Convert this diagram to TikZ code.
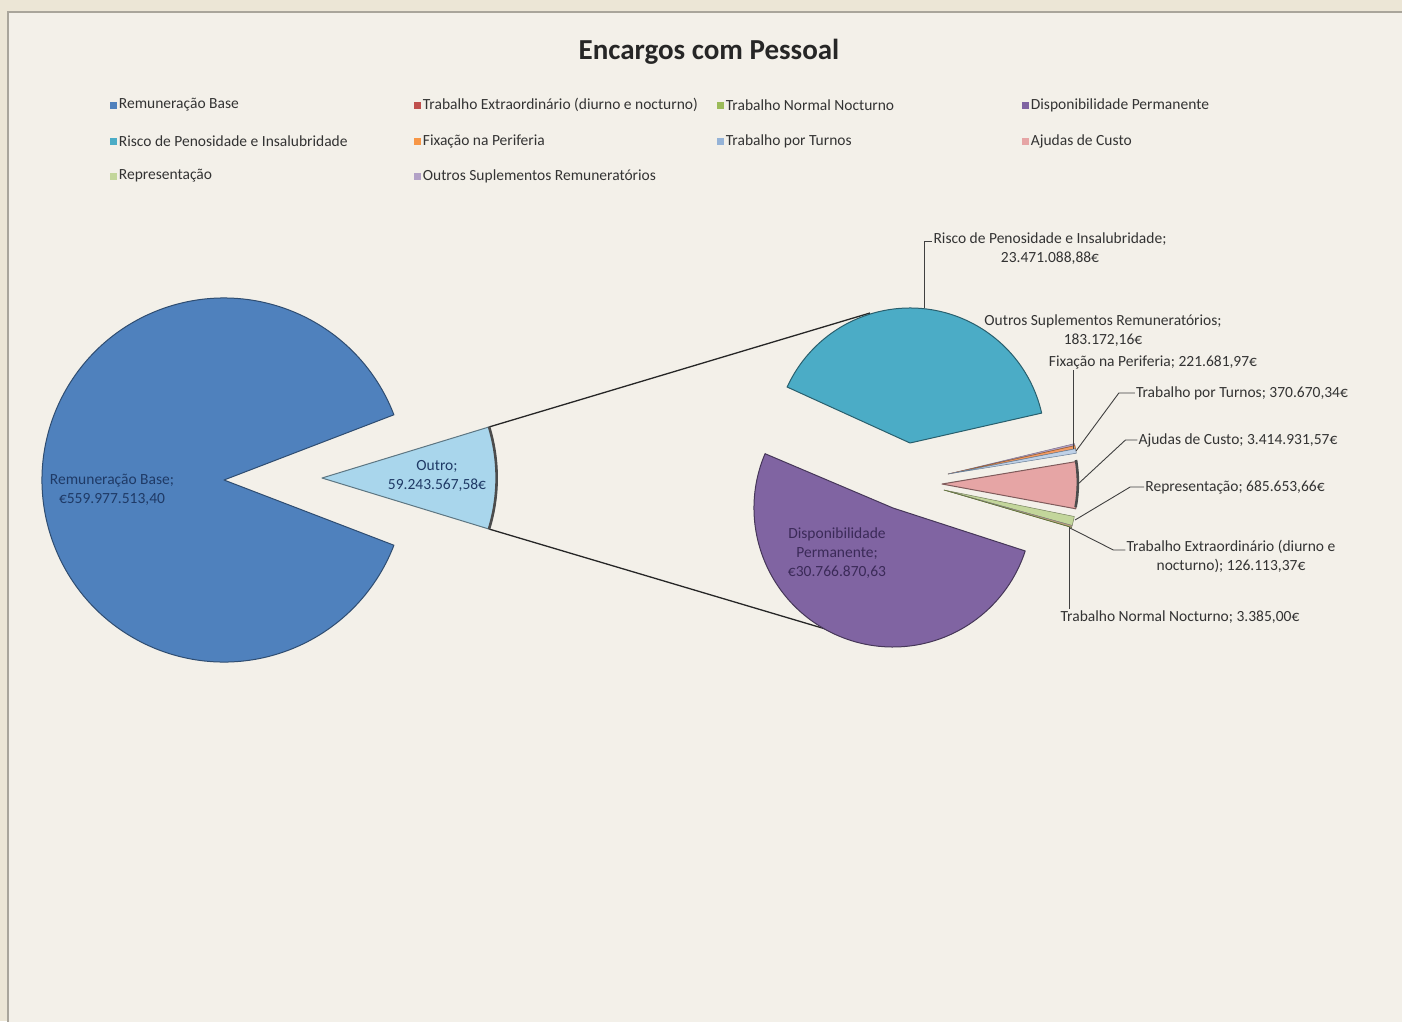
\documentclass[tikz,border=0pt]{standalone}
\usepackage{fontspec}
\setmainfont{Carlito}
\usepackage{tikz}
\usetikzlibrary{positioning}

\definecolor{frameBg}{HTML}{ECE6D6}
\definecolor{chartBg}{HTML}{F3F0E9}
\definecolor{frameLine}{HTML}{A9A59B}
\definecolor{remunBlue}{HTML}{4F81BD}
\definecolor{extraRed}{HTML}{C0504D}
\definecolor{noctGreen}{HTML}{9BBB59}
\definecolor{dispPurple}{HTML}{8064A2}
\definecolor{riscoTeal}{HTML}{4BACC6}
\definecolor{fixOrange}{HTML}{F79646}
\definecolor{turnosBlue}{HTML}{95B3D7}
\definecolor{ajudasPink}{HTML}{E6A5A5}
\definecolor{repGreen}{HTML}{C3D69B}
\definecolor{outrosLilac}{HTML}{B3A2C7}
\definecolor{outroBlue}{HTML}{A9D6EC}
\definecolor{lblGray}{HTML}{333333}
\definecolor{titleGray}{HTML}{262626}
\definecolor{remunText}{HTML}{1F3A66}
\definecolor{dispText}{HTML}{3B2A58}

% slice of a pie: centre, from, to (angles as seen), radius, style
\newcommand{\pieslice}[5]{%
  \filldraw[#5] (#1) -- ++({-(#2)}:#4) arc[start angle={-(#2)}, end angle={-(#3)}, radius=#4] -- cycle;}
% legend entry: name, position, colour, text
\newcommand{\legentry}[4]{%
  \node[legmark, fill=#3] (#1) at (#2) {};
  \node[legtext, right=1pt of #1] (#1txt) {#4};}

\begin{document}
\begin{tikzpicture}[x=1pt,y=-1pt,
    pieSlice/.style={line width=1pt, line join=round},
    leader/.style={draw=black!75, line width=0.9pt},
    link/.style={draw=black!85, line width=1.3pt},
    rim/.style={draw=black!70, line width=2.6pt},
    lbl/.style={text=lblGray, font=\fontsize{15.5}{19}\selectfont, align=center, inner sep=1pt},
    legmark/.style={minimum size=7, inner sep=0pt},
    legtext/.style={text=lblGray, font=\fontsize{15.5}{19}\selectfont, inner sep=1pt}]
  \useasboundingbox (0,0) rectangle (1402,1021);
  \fill[frameBg] (0,0) rectangle (1402,1021);
  \filldraw[fill=chartBg, draw=frameLine, line width=1.5pt] (8,12) rectangle (1412,1032);

  % title and legend
  \node[font=\bfseries\fontsize{29}{34}\selectfont, text=titleGray] (title) at (709,52) {Encargos com Pessoal};
  \legentry{lRemun}{113,105}{remunBlue}{Remuneração Base}
  \legentry{lExtra}{417,105}{extraRed}{Trabalho Extraordinário (diurno e nocturno)}
  \legentry{lNoct}{720,105}{noctGreen}{Trabalho Normal Nocturno}
  \legentry{lDisp}{1025,105}{dispPurple}{Disponibilidade Permanente}
  \legentry{lRisco}{113,141}{riscoTeal}{Risco de Penosidade e Insalubridade}
  \legentry{lFix}{417,141}{fixOrange}{Fixação na Periferia}
  \legentry{lTurnos}{720,141}{turnosBlue}{Trabalho por Turnos}
  \legentry{lAjudas}{1025,141}{ajudasPink}{Ajudas de Custo}
  \legentry{lRep}{113,176}{repGreen}{Representação}
  \legentry{lOutros}{417,176}{outrosLilac}{Outros Suplementos Remuneratórios}

  % lines from the first pie to the second
  \coordinate (outroTop) at (489,427);
  \coordinate (outroBot) at (489,529);
  \coordinate (tealEdge) at (870,313);
  \coordinate (dispEdge) at (876,644);
  \draw[link] (outroTop) -- (tealEdge);
  \draw[link] (outroBot) -- (dispEdge);

  % first pie
  \pieslice{224,480}{21}{339}{182}{pieSlice, fill=remunBlue, draw=remunBlue!60!black}
  \pieslice{322,478}{-17}{17}{175}{pieSlice, fill=outroBlue, draw=outroBlue!55!black}
  \draw[rim] (outroBot) arc[start angle=17, end angle=-17, radius=175];

  % second pie
  \pieslice{910,443}{12.8}{155.5}{135}{pieSlice, fill=riscoTeal, draw=riscoTeal!55!black}
  \pieslice{893,508}{157}{342}{139}{pieSlice, fill=dispPurple, draw=dispPurple!55!black}
  \pieslice{948,474}{13.5}{12.6}{130}{pieSlice, fill=outrosLilac, draw=outrosLilac!70!black, line width=0.5pt}
  \pieslice{948,474}{12.6}{11.2}{130}{pieSlice, fill=fixOrange!70!ajudasPink, draw=fixOrange!60!black, line width=0.5pt}
  \pieslice{948,474}{11.2}{9.2}{130}{pieSlice, fill=turnosBlue!60!white, draw=turnosBlue!70!black, line width=0.5pt}
  \pieslice{942,484}{9.5}{-10.5}{136}{pieSlice, fill=ajudasPink, draw=ajudasPink!55!black}
  \draw[rim] (1076,460) arc[start angle=-9.5, end angle=10.5, radius=136];
  \pieslice{944,490}{-11.5}{-15.5}{133}{pieSlice, fill=repGreen, draw=repGreen!60!black, line width=0.5pt}
  \pieslice{944,490}{-15.5}{-16.3}{133}{pieSlice, fill=extraRed!40!repGreen, draw=black!50, line width=0.5pt}
  \pieslice{944,490}{-16.3}{-16.4}{133}{pieSlice, fill=noctGreen, draw=noctGreen!60!black, line width=0.5pt}

  % labels inside the slices
  \node[lbl, text=remunText] (remunLbl) at (112,490) {Remuneração Base;\\€559.977.513,40};
  \node[lbl, text=remunText] (outroLbl) at (437,476) {Outro;\\59.243.567,58€};
  \node[lbl, text=dispText] (dispLbl) at (837,553) {Disponibilidade\\Permanente;\\€30.766.870,63};

  % labels outside, with leaders
  \node[lbl] (riscoLbl) at (1050,249) {Risco de Penosidade e Insalubridade;\\23.471.088,88€};
  \node[lbl] (outrosLbl) at (1103,331) {Outros Suplementos Remuneratórios;\\183.172,16€};
  \node[lbl] (fixLbl) at (1153,362) {Fixação na Periferia; 221.681,97€};
  \node[lbl] (turnosLbl) at (1242,393) {Trabalho por Turnos; 370.670,34€};
  \node[lbl] (ajudasLbl) at (1238,440) {Ajudas de Custo; 3.414.931,57€};
  \node[lbl] (repLbl) at (1235,487) {Representação; 685.653,66€};
  \node[lbl] (extraLbl) at (1231,556) {Trabalho Extraordinário (diurno e\\nocturno); 126.113,37€};
  \node[lbl] (noctLbl) at (1180,617) {Trabalho Normal Nocturno; 3.385,00€};

  \coordinate (riscoPt) at (924,308);
  \coordinate (fixPt) at (1073,449);
  \coordinate (turnosPt) at (1076,451);
  \coordinate (ajudasPt) at (1078,484);
  \coordinate (repPt) at (1075,520);
  \coordinate (extraPt) at (1070,528);
  \coordinate (noctPt) at (1069,527);
  \draw[leader] (riscoPt) |- ([yshift=8pt]riscoLbl.west);
  \draw[leader] (fixPt) -- (fixPt |- fixLbl.south);
  \draw[leader] (turnosPt) -- ([xshift=-16pt]turnosLbl.west) -- (turnosLbl.west);
  \draw[leader] (ajudasPt) -- ([xshift=-12pt]ajudasLbl.west) -- (ajudasLbl.west);
  \draw[leader] (repPt) -- ([xshift=-14pt]repLbl.west) -- (repLbl.west);
  \draw[leader] (extraPt) -- ([xshift=-12pt,yshift=6pt]extraLbl.west) -- ([yshift=6pt]extraLbl.west);
  \draw[leader] (noctPt) -- (noctPt |- noctLbl.north);
\end{tikzpicture}
\end{document}
